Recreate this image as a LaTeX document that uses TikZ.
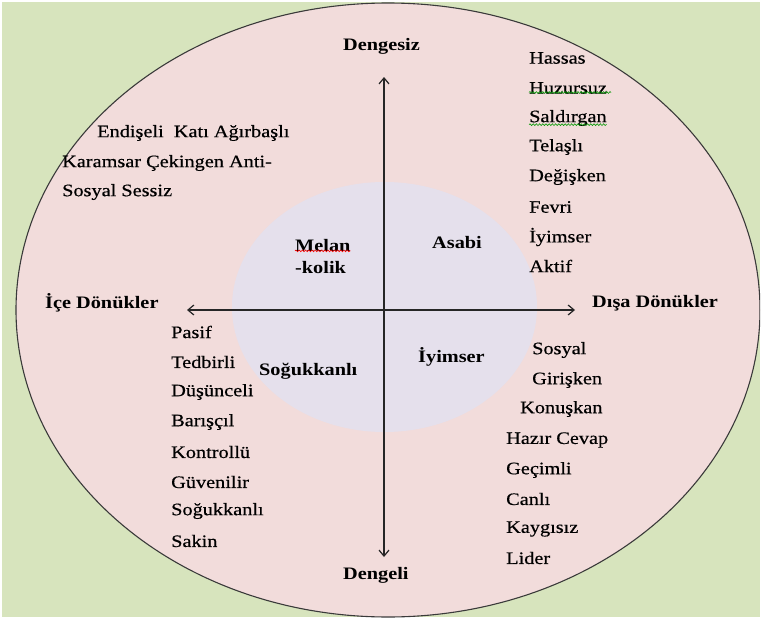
\documentclass[tikz,border=0pt]{standalone}
\usepackage{fontspec}
\setmainfont{Liberation Serif}[FakeStretch=1.16]
\newfontfamily\adjfont{Liberation Serif}[FakeStretch=1.16,FakeBold=0.5]
\usetikzlibrary{arrows.meta,decorations.pathmorphing}
\definecolor{bggreen}{HTML}{D7E4BD}
\definecolor{pinkfill}{HTML}{F2DCDB}
\definecolor{lavfill}{HTML}{E5E0EC}
\definecolor{outline}{HTML}{3A3A3A}
\tikzset{
  word/.style={anchor=west, inner sep=0pt, font=\adjfont\fontsize{17.5}{20}\selectfont},
  boldword/.style={anchor=west, inner sep=0pt, font=\fontsize{17.5}{20}\selectfont\bfseries},
  axis/.style={draw=black!85, line width=1.4pt, -{Straight Barb[length=6pt,width=10pt,line width=1.2pt]}},
  squig/.style={decorate, decoration={snake, segment length=3.2pt, amplitude=0.9pt}, line width=0.6pt}
}
\begin{document}
\begin{tikzpicture}[x=1pt,y=-1pt]
\useasboundingbox (0,0) rectangle (761,621);
\fill[white] (0,0) rectangle (761,621);
\fill[bggreen] (2,2) rectangle (760,617);
\begin{scope}
\clip (2,2) rectangle (760,617);
\draw[fill=pinkfill, draw=outline, line width=1.1pt] (388,310) ellipse [x radius=372, y radius=307];
\end{scope}
\fill[lavfill] (384.5,307) ellipse [x radius=152.5, y radius=125];

% axes
\coordinate (top) at (384,77);
\coordinate (bot) at (384,557);
\coordinate (lft) at (187,310);
\coordinate (rgt) at (575,310);
\coordinate (ctr) at (384,310);
\draw[axis] (ctr) -- (top);
\draw[axis] (ctr) -- (bot);
\draw[axis] (ctr) -- (lft);
\draw[axis] (ctr) -- (rgt);

% axis labels
\node[boldword] (dengesiz) at (343,46) {Dengesiz};
\node[boldword] (dengeli) at (343,575) {Dengeli};
\node[boldword] (ice) at (45,303) {İçe Dönükler};
\node[boldword] (disa) at (592,303) {Dışa Dönükler};

% center labels
\node[boldword] (melan) at (295,246) {Melan};
\node[boldword] (kolik) at (295,268) {-kolik};
\node[boldword] (asabi) at (432,243) {Asabi};
\node[boldword] (sogukc) at (259,371) {Soğukkanlı};
\node[boldword] (iyimc) at (418,357) {İyimser};

% top-left block
\node[word] (tl1) at (97,133) {Endişeli\ \ Katı Ağırbaşlı};
\node[word] (tl2) at (62,163) {Karamsar Çekingen Anti-};
\node[word] (tl3) at (62,192) {Sosyal Sessiz};

% top-right column
\node[word] (r1) at (529,58) {Hassas};
\node[word] (r2) at (529,88) {Huzursuz};
\node[word] (r3) at (529,118) {Saldırgan};
\node[word] (r4) at (529,147) {Telaşlı};
\node[word] (r5) at (529,177) {Değişken};
\node[word] (r6) at (529,207) {Fevri};
\node[word] (r7) at (529,237) {İyimser};
\node[word] (r8) at (529,266) {Aktif};

% bottom-left column
\node[word] (l1) at (171,332) {Pasif};
\node[word] (l2) at (171,362) {Tedbirli};
\node[word] (l3) at (171,392) {Düşünceli};
\node[word] (l4) at (171,422) {Barışçıl};
\node[word] (l5) at (171,452) {Kontrollü};
\node[word] (l6) at (171,482) {Güvenilir};
\node[word] (l7) at (171,511) {Soğukkanlı};
\node[word] (l8) at (171,541) {Sakin};

% bottom-right column
\node[word] (b1) at (532,350) {Sosyal};
\node[word] (b2) at (532,380) {Girişken};
\node[word] (b3) at (520,409) {Konuşkan};
\node[word] (b4) at (506,440) {Hazır Cevap};
\node[word] (b5) at (506,470) {Geçimli};
\node[word] (b6) at (506,499) {Canlı};
\node[word] (b7) at (506,529) {Kaygısız};
\node[word] (b8) at (506,558) {Lider};

% spell-check underlines
\draw[squig, draw=green!60!black] ([yshift=1.5pt]r2.south west) -- ([yshift=1.5pt,xshift=4pt]r2.south east);
\draw[squig, draw=green!60!black] ([yshift=1.5pt]r3.south west) -- ([yshift=1.5pt]r3.south east);
\draw[squig, draw=red] ([yshift=1.5pt]melan.south west) -- ([yshift=1.5pt]melan.south east);
\end{tikzpicture}
\end{document}
